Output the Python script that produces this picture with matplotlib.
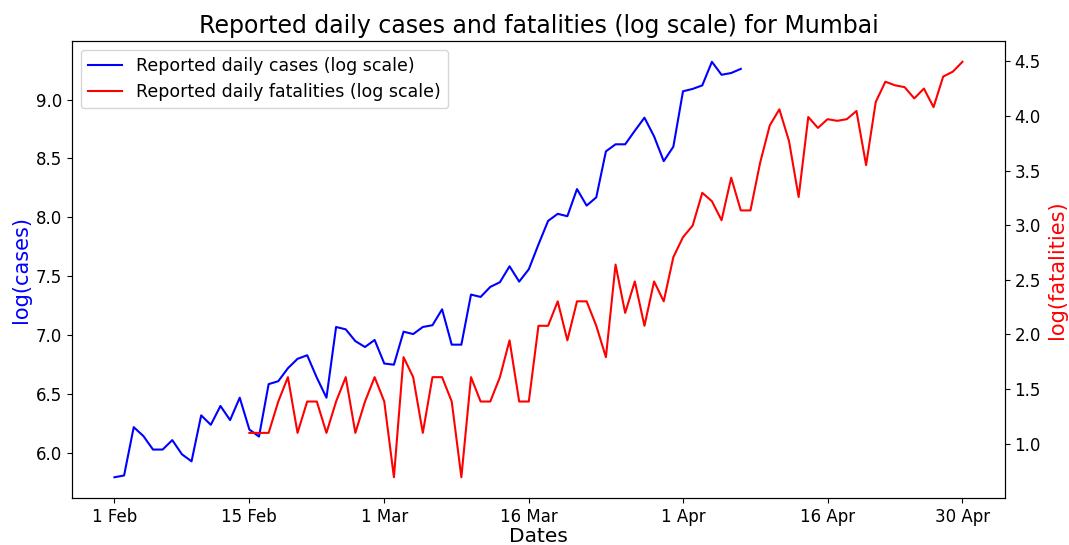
import numpy as np
import pandas as pd
import matplotlib
matplotlib.use("Agg")
import matplotlib.pyplot as plt
import matplotlib.dates as mdates

# Log of daily reported cases, 1 Feb - 7 Apr 2021
case_dates = pd.date_range("2021-02-01", "2021-04-07", freq="D")
log_cases = [
    5.795, 5.81, 6.22, 6.145, 6.03, 6.03, 6.11, 5.99, 5.93, 6.32,
    6.24, 6.40, 6.28, 6.47, 6.20, 6.14, 6.585, 6.61, 6.72, 6.80,
    6.83, 6.64, 6.47, 7.07, 7.05, 6.95, 6.90, 6.96,
    6.76, 6.75, 7.03, 7.01, 7.07, 7.085, 7.22, 6.92, 6.92, 7.345,
    7.325, 7.41, 7.45, 7.585, 7.455, 7.56, 7.77, 7.97, 8.03, 8.01,
    8.24, 8.10, 8.17, 8.56, 8.62, 8.62, 8.735, 8.846, 8.687, 8.477,
    8.60,
    9.07, 9.09, 9.12, 9.32, 9.21, 9.225, 9.26,
]

# Log of daily reported fatalities, 15 Feb - 30 Apr 2021
fatal_dates = pd.date_range("2021-02-15", "2021-04-30", freq="D")
log_fatalities = [
    1.099, 1.099, 1.099, 1.386, 1.609, 1.099, 1.386, 1.386, 1.099, 1.386,
    1.609, 1.099, 1.386, 1.609,
    1.386, 0.693, 1.792, 1.609, 1.099, 1.609, 1.609, 1.386, 0.693, 1.609,
    1.386, 1.386, 1.609, 1.946, 1.386, 1.386, 2.079, 2.079, 2.303, 1.946,
    2.303, 2.303, 2.079, 1.792, 2.639, 2.197, 2.485, 2.079, 2.485, 2.303,
    2.708,
    2.890, 2.996, 3.296, 3.219, 3.045, 3.434, 3.135, 3.135, 3.57, 3.912,
    4.06, 3.77, 3.258, 3.99, 3.89, 3.97, 3.955, 3.97, 4.045, 3.55,
    4.127, 4.313, 4.28, 4.263, 4.16, 4.25, 4.08, 4.36, 4.405, 4.495,
]

tick_dates = ["2021-02-01", "2021-02-15", "2021-03-01", "2021-03-16",
              "2021-04-01", "2021-04-16", "2021-04-30"]
tick_labels = ["1 Feb", "15 Feb", "1 Mar", "16 Mar", "1 Apr", "16 Apr", "30 Apr"]

fig = plt.figure(figsize=(10.69, 5.45), dpi=100)
ax = fig.add_axes([0.0674, 0.0862, 0.8726, 0.8385])
ax2 = ax.twinx()

l1, = ax.plot(case_dates, log_cases, color="blue", lw=1.5,
              label="Reported daily cases (log scale)")
l2, = ax2.plot(fatal_dates, log_fatalities, color="red", lw=1.5,
               label="Reported daily fatalities (log scale)")

ax.set_xticks(pd.to_datetime(tick_dates))
ax.set_xticklabels(tick_labels)
ax.tick_params(axis="both", labelsize=12)
ax2.tick_params(axis="y", labelsize=12)

ax.set_xlabel("Dates", fontsize=14.5, labelpad=1)
ax.set_ylabel("log(cases)", color="blue", fontsize=15)
ax2.set_ylabel("log(fatalities)", color="red", fontsize=15)
ax.set_title("Reported daily cases and fatalities (log scale) for Mumbai", fontsize=17)

ax.legend(handles=[l1, l2], loc="upper left", fontsize=12.5)

fig.savefig("out.png", dpi=100)
